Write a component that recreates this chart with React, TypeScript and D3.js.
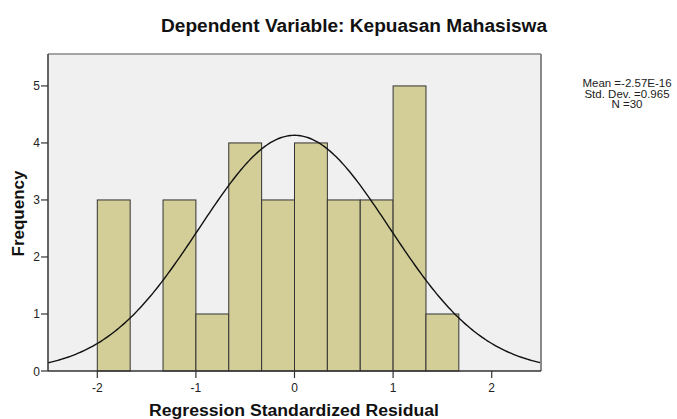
import React from "react";
import * as d3 from "d3";

const binStarts = [-2, -1.6667, -1.3333, -1, -0.6667, -0.3333, 0, 0.3333, 0.6667, 1, 1.3333];
const binCounts = [3, 0, 3, 1, 4, 3, 4, 3, 3, 5, 1];
const binWidth = 1 / 3;
const xTicks = [-2, -1, 0, 1, 2];
const yTicks = [0, 1, 2, 3, 4, 5];
const stats = ["Mean =-2.57E-16", "Std. Dev. =0.965", "N =30"];
const mean = -2.57e-16;
const sd = 0.965;
const n = 30;

const W = 677;
const H = 419;
const left = 48, right = 541, top = 54, bottom = 371;
const FONT = "'Liberation Sans', Arial, sans-serif";

export default function App() {
  React.useEffect(() => {
    document.body.style.margin = "0";
  }, []);
  const x = d3.scaleLinear().domain([-2.5, 2.5]).range([left, right]);
  const y = d3.scaleLinear().domain([0, 5.56]).range([bottom, top]);
  const curveX = d3.range(-2.5, 2.5001, 0.02);
  const pdf = (v: number) =>
    (n * binWidth) / (sd * Math.sqrt(2 * Math.PI)) * Math.exp(-0.5 * ((v - mean) / sd) ** 2);
  const line = d3.line<number>().x((v) => x(v)).y((v) => y(pdf(v)));

  return (
    <svg width={W} height={H} style={{ display: "block", background: "#fff" }} fontFamily={FONT}>
      <rect x={left} y={top} width={right - left} height={bottom - top} fill="#f0f0f0" />
      {binStarts.map((s, i) =>
        binCounts[i] > 0 ? (
          <rect
            key={i}
            x={x(s)}
            y={y(binCounts[i])}
            width={x(s + binWidth) - x(s)}
            height={y(0) - y(binCounts[i])}
            fill="#d3ce97"
            stroke="#333"
            strokeWidth={1}
          />
        ) : null
      )}
      <path d={line(curveX) || ""} fill="none" stroke="#111" strokeWidth={1.4} />
      <line x1={left} x2={right} y1={top} y2={top} stroke="#888" strokeWidth={1.5} />
      <line x1={right} x2={right} y1={top} y2={bottom} stroke="#888" strokeWidth={2} />
      <line x1={left} x2={left} y1={top} y2={bottom} stroke="#333" strokeWidth={1.5} />
      <line x1={left} x2={right} y1={bottom} y2={bottom} stroke="#333" strokeWidth={1.5} />
      {yTicks.map((t) => (
        <g key={t}>
          <line x1={left - 7} x2={left} y1={y(t)} y2={y(t)} stroke="#333" strokeWidth={1.2} />
          <text x={left - 8} y={y(t) + 4.5} textAnchor="end" fontSize={12} fill="#222">
            {t}
          </text>
        </g>
      ))}
      {xTicks.map((t) => (
        <g key={t}>
          <line x1={x(t)} x2={x(t)} y1={bottom} y2={bottom + 7} stroke="#333" strokeWidth={1.2} />
          <text x={x(t)} y={bottom + 21} textAnchor="middle" fontSize={12} fill="#222">
            {t < 0 ? "-" + Math.abs(t) : t}
          </text>
        </g>
      ))}
      <text
        x={354}
        y={32}
        textAnchor="middle"
        fontSize={18}
        fontWeight="bold"
        fill="#111"
        textLength={386}
        lengthAdjust="spacingAndGlyphs"
      >
        Dependent Variable: Kepuasan Mahasiswa
      </text>
      <text
        x={294}
        y={416}
        textAnchor="middle"
        fontSize={16}
        fontWeight="bold"
        fill="#111"
        textLength={290}
        lengthAdjust="spacingAndGlyphs"
      >
        Regression Standardized Residual
      </text>
      <text
        transform={`translate(24,${(top + bottom) / 2 + 1}) rotate(-90)`}
        textAnchor="middle"
        fontSize={16}
        fontWeight="bold"
        fill="#111"
        textLength={86}
        lengthAdjust="spacingAndGlyphs"
      >
        Frequency
      </text>
      {stats.map((s, i) => (
        <text key={i} x={627} y={87 + i * 10.5} textAnchor="middle" fontSize={11.5} fill="#222">
          {s}
        </text>
      ))}
    </svg>
  );
}
